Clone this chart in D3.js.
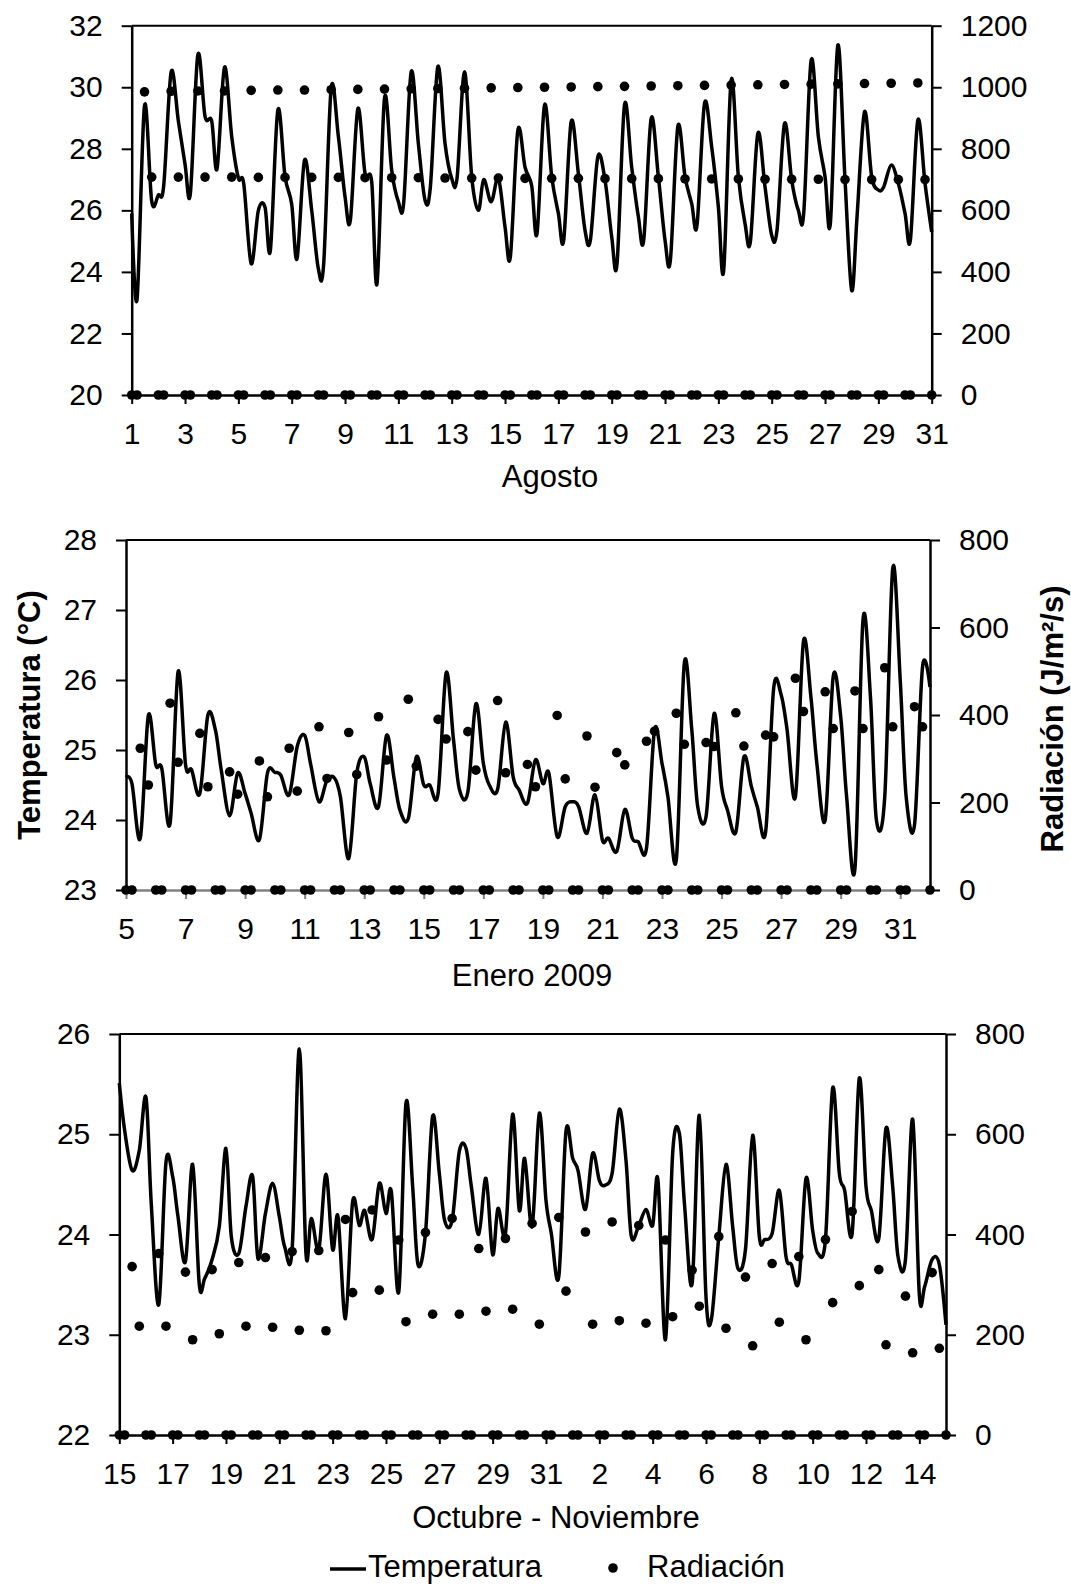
<!DOCTYPE html>
<html lang="es">
<head>
<meta charset="utf-8">
<title>Temperatura y radiación</title>
<script src="https://cdnjs.cloudflare.com/ajax/libs/d3/7.8.5/d3.min.js"></script>
<style>
  body { margin: 0; background: #fff; }
  svg text { font-family: "Liberation Sans", Arial, sans-serif; }
</style>
</head>
<body>
<svg width="1071" height="1587"></svg>
<script>
// fraction of the day for the 4 readings
var readTimes = [0, 0.2, 0.48, 0.75];

// ---- Agosto (day 1 00h .. day 31 00h)
var agoTicks = [1, 3, 5, 7, 9, 11, 13, 15, 17, 19, 21, 23, 25, 27, 29, 31];
var agoTemp = [
  25.9, 23.1, 29.4, 26.3,   26.5, 26.8, 30.5, 28.9,   27.5, 26.55, 31.05, 29.05,
  28.9, 27.35, 30.65, 28.4, 27.05, 26.87, 24.27, 26.0, 26.1, 24.7, 29.26, 27.1,
  26.2, 24.43, 27.63, 26.0, 24.1, 24.27, 29.96, 28.4,   26.44, 25.68, 29.3, 27.2,
  26.93, 23.62, 29.64, 27.3, 26.28, 26.25, 30.5, 28.17, 26.33, 26.76, 30.67, 28.17,
  27.04, 27.04, 30.5, 27.1, 26.0, 27.0, 26.28, 27.04,   25.46, 24.49, 28.6, 27.4,
  26.8, 25.25, 29.42, 27.1, 25.9, 25.03, 28.88, 27.2,   25.35, 25.03, 27.74, 26.98,
  25.14, 24.27, 29.42, 27.4, 25.79, 25.03, 28.99, 27.09, 25.03, 24.38, 28.72, 27.09,
  26.22, 25.52, 29.47, 28.06, 26.11, 24.05, 30.23, 27.09, 25.57, 24.98, 28.5, 26.76,
  25.19, 25.36, 28.82, 26.98, 26.0, 25.9, 30.88, 28.39, 27.09, 25.57, 31.37, 26.98,
  23.4, 25.79, 29.2, 27.09, 26.66, 26.76, 27.47, 26.87, 25.9, 25.03, 28.93, 26.87,
  25.3
];
var agoRadNoon = [985, 987, 988, 988, 990, 991, 991, 992, 993, 994, 995, 996, 997, 998, 999,
                  1000, 1001, 1002, 1003, 1004, 1005, 1006, 1007, 1008, 1009, 1010, 1011, 1012, 1013, 1014];
var agoRadLate = [708, 708, 708, 708, 707, 707, 707, 707, 706, 706, 706, 705, 705, 705, 704,
                  704, 704, 703, 703, 703, 702, 702, 702, 701, 701, 701, 700, 700, 700, 700];

// ---- Enero 2009 (day 5 00h .. day 32 00h)
var eneTicks = [5, 7, 9, 11, 13, 15, 17, 19, 21, 23, 25, 27, 29, 31];
var eneTemp = [
  24.61, 24.52, 23.74, 25.49, 24.79, 24.74, 23.95, 26.12, 24.79, 24.72, 24.38, 25.5,
  25.29, 24.71, 24.06, 24.67, 24.38, 24.1, 23.72, 24.67,  24.68, 24.64, 24.36, 25.05,
  25.21, 24.8, 24.26, 24.57,  24.6, 24.33, 23.45, 24.67,  24.9, 24.52, 24.19, 25.21,
  24.6, 24.14, 24.02, 24.9,   24.5, 24.5, 24.38, 26.1,    25.14, 24.43, 24.4, 25.66,
  24.81, 24.5, 24.44, 25.4,   24.62, 24.43, 24.24, 24.86, 24.52, 24.67, 23.76, 24.19,
  24.26, 24.19, 23.81, 24.36, 23.71, 23.74, 23.55, 24.15, 23.74, 23.69, 23.6, 25.29,
  24.81, 24.33, 23.43, 26.24, 25.29, 24.19, 24.05, 25.52, 24.48, 24.14, 23.83, 24.9,
  24.48, 24.19, 23.83, 25.88, 25.79, 25.29, 24.33, 26.55, 25.76, 24.81, 24.0, 26.05,
  25.48, 24.33, 23.31, 26.86, 25.76, 24.0, 24.33, 27.6,   26.0, 24.33, 23.93, 26.19,
  25.9
];
var eneRadNoon = [324, 427, 358, 270, 295, 324, 373, 360, 396, 436, 390, 362, 433, 287,
                  399, 352, 314, 340, 404, 337, 405, 354, 484, 453, 455, 508, 419];
var eneRadLate = [240, 292, 236, 219, 213, 226, 255, 264, 297, 283, 345, 274, 268, 236,
                  254, 235, 286, 363, 333, 328, 329, 350, 408, 369, 369, 373, 373];

// ---- Octubre - Noviembre (15 Oct 00h .. 15 Nov 00h)
var octTicks = [15, 17, 19, 21, 23, 25, 27, 29, 31, 2, 4, 6, 8, 10, 12, 14];
var octTemp = [
  25.51, 25.04, 24.64, 24.84, 25.37, 24.3, 23.3, 24.72,   24.58, 24.18, 23.73, 24.7,
  23.5, 23.56, 23.75, 24.08,  24.86, 23.98, 23.81, 24.28, 24.58, 23.76, 24.21, 24.51,
  24.18, 23.88, 23.85, 25.85, 23.81, 24.16, 23.85, 24.6,  23.85, 24.18, 23.16, 24.33,
  24.09, 24.24, 23.95, 24.51, 24.21, 24.43, 23.43, 25.31, 24.48, 23.7, 24.01, 25.18,
  24.61, 24.14, 24.14, 24.83, 24.86, 24.48, 24.0, 24.56,  23.8, 24.26, 24.01, 25.2,
  24.24, 24.76, 24.08, 25.21, 24.34, 24.01, 23.58, 25.03, 24.76, 24.64, 24.25, 24.81,
  24.54, 24.49, 24.61, 25.25, 24.74, 23.98, 24.09, 24.25, 24.09, 24.54, 22.95, 24.81,
  25.01, 24.28, 23.51, 25.19, 23.38, 23.15, 23.98, 24.7,  24.08, 23.66, 23.85, 24.99,
  23.98, 23.95, 24.01, 24.44, 23.78, 23.7, 23.53, 24.56,  24.04, 23.81, 23.95, 25.46,
  24.61, 24.44, 24.01, 25.56, 24.48, 24.24, 23.96, 25.06, 24.48, 23.78, 23.75, 25.15,
  23.4, 23.48, 23.75, 23.7,
  23.1
];
var octRadNoon = [336, 362, 325, 330, 344, 354, 366, 368, 430, 449, 389, 404, 432, 372, 392, 422,
                  434, 405, 425, 418, 389, 329, 396, 315, 342, 356, 390, 446, 330, 277, 324];
var octRadLate = [217, 217, 190, 202, 217, 215, 209, 208, 284, 289, 226, 241, 241, 247, 251, 221,
                  287, 221, 228, 223, 236, 257, 213, 178, 225, 190, 264, 298, 180, 164, 173];

var svg = d3.select("svg");

// turn a list of readings into {t, v} with t in days from the panel start
function series(vals) {
  return vals.map(function(v, i) {
    return {t: Math.floor(i / 4) + readTimes[i % 4], v: v};
  });
}

// radiation is zero for the two night readings
function radSeries(noon, late) {
  var out = [];
  noon.forEach(function(n, j) { out.push(0, 0, n, late[j]); });
  out.push(0);
  return series(out);
}

var panels = [
  {left: 131.7, right: 931.7, top: 25.7, bottom: 395, days: 30,
   tDomain: [20, 32], tStep: 2, rDomain: [0, 1200],
   temp: agoTemp, noon: agoRadNoon, late: agoRadLate, ticks: agoTicks,
   title: "Agosto", titleX: 550, titleY: 487, axisColor: "#000"},
  {left: 126, right: 930, top: 540, bottom: 890, days: 27,
   tDomain: [23, 28], tStep: 1, rDomain: [0, 800],
   temp: eneTemp, noon: eneRadNoon, late: eneRadLate, ticks: eneTicks,
   title: "Enero 2009", titleX: 532, titleY: 986, axisColor: "#808080"},
  {left: 119.3, right: 946, top: 1034, bottom: 1435, days: 31,
   tDomain: [22, 26], tStep: 1, rDomain: [0, 800],
   temp: octTemp, noon: octRadNoon, late: octRadLate, ticks: octTicks,
   title: "Octubre - Noviembre", titleX: 556, titleY: 1528, axisColor: "#000"}
];

var fmt = d3.format("d");

panels.forEach(function(p) {
  var x = d3.scaleLinear().domain([0, p.days]).range([p.left, p.right]);
  var yT = d3.scaleLinear().domain(p.tDomain).range([p.bottom, p.top]);
  var yR = d3.scaleLinear().domain(p.rDomain).range([p.bottom, p.top]);

  var g = svg.append("g");

  // top frame line
  g.append("line")
    .attr("x1", p.left).attr("x2", p.right)
    .attr("y1", p.top).attr("y2", p.top)
    .attr("stroke", "#000").attr("stroke-width", 2);

  // bottom axis
  var xAxis = d3.axisBottom(x)
    .tickValues(d3.range(0, p.days + 1, 2))
    .tickFormat(function(d, i) { return p.ticks[i]; })
    .tickSize(9).tickSizeOuter(0).tickPadding(19);
  var gx = g.append("g")
    .attr("transform", "translate(0," + p.bottom + ")")
    .call(xAxis);
  gx.select(".domain").attr("stroke", p.axisColor).attr("stroke-width", 2.5);
  gx.selectAll(".tick line").attr("stroke", p.axisColor).attr("stroke-width", 2);
  gx.selectAll("text").attr("fill", "#000").style("font-size", "30px");

  // left axis (temperature)
  var yAxisL = d3.axisLeft(yT)
    .tickValues(d3.range(p.tDomain[0], p.tDomain[1] + 0.01, p.tStep))
    .tickFormat(fmt)
    .tickSize(10).tickSizeOuter(0).tickPadding(19);
  var gl = g.append("g")
    .attr("transform", "translate(" + p.left + ",0)")
    .call(yAxisL);
  gl.select(".domain").attr("stroke", "#000").attr("stroke-width", 2.5);
  gl.selectAll(".tick line").attr("stroke", "#000").attr("stroke-width", 2);
  gl.selectAll("text").attr("fill", "#000").style("font-size", "30px");

  // right axis (radiation)
  var yAxisR = d3.axisRight(yR)
    .tickValues(d3.range(p.rDomain[0], p.rDomain[1] + 1, 200))
    .tickFormat(fmt)
    .tickSize(10).tickSizeOuter(0).tickPadding(19);
  var gr = g.append("g")
    .attr("transform", "translate(" + p.right + ",0)")
    .call(yAxisR);
  gr.select(".domain").attr("stroke", "#000").attr("stroke-width", 2.5);
  gr.selectAll(".tick line").attr("stroke", "#000").attr("stroke-width", 2);
  gr.selectAll("text").attr("fill", "#000").style("font-size", "30px");

  // x title
  g.append("text")
    .attr("x", p.titleX).attr("y", p.titleY)
    .attr("text-anchor", "middle")
    .style("font-size", "31px")
    .text(p.title);

  // temperature line
  var line = d3.line()
    .x(function(d) { return x(d.t); })
    .y(function(d) { return yT(d.v); })
    .curve(d3.curveCatmullRom.alpha(0));
  g.append("path")
    .datum(series(p.temp))
    .attr("d", line)
    .attr("fill", "none")
    .attr("stroke", "#000")
    .attr("stroke-width", 3.5)
    .attr("stroke-linejoin", "round");

  // radiation dots
  g.selectAll(".dot")
    .data(radSeries(p.noon, p.late))
    .enter()
    .append("circle")
    .attr("class", "dot")
    .attr("cx", function(d) { return x(d.t); })
    .attr("cy", function(d) { return yR(d.v); })
    .attr("r", 4.8)
    .attr("fill", "#000");
});

// y titles (shared)
svg.append("text")
  .attr("transform", "translate(40,715) rotate(-90)")
  .attr("text-anchor", "middle")
  .style("font-size", "31px").style("font-weight", "bold")
  .text("Temperatura (°C)");

svg.append("text")
  .attr("transform", "translate(1063,719) rotate(-90)")
  .attr("text-anchor", "middle")
  .style("font-size", "31px").style("font-weight", "bold")
  .text("Radiación (J/m²/s)");

// legend
var legend = svg.append("g");
legend.append("line")
  .attr("x1", 330).attr("x2", 366)
  .attr("y1", 1569).attr("y2", 1569)
  .attr("stroke", "#000").attr("stroke-width", 3.5);
legend.append("text")
  .attr("x", 368).attr("y", 1577)
  .style("font-size", "31px")
  .text("Temperatura");
legend.append("circle")
  .attr("cx", 613).attr("cy", 1568).attr("r", 4.8)
  .attr("fill", "#000");
legend.append("text")
  .attr("x", 647).attr("y", 1577)
  .style("font-size", "31px")
  .text("Radiación");
</script>
</body>
</html>
